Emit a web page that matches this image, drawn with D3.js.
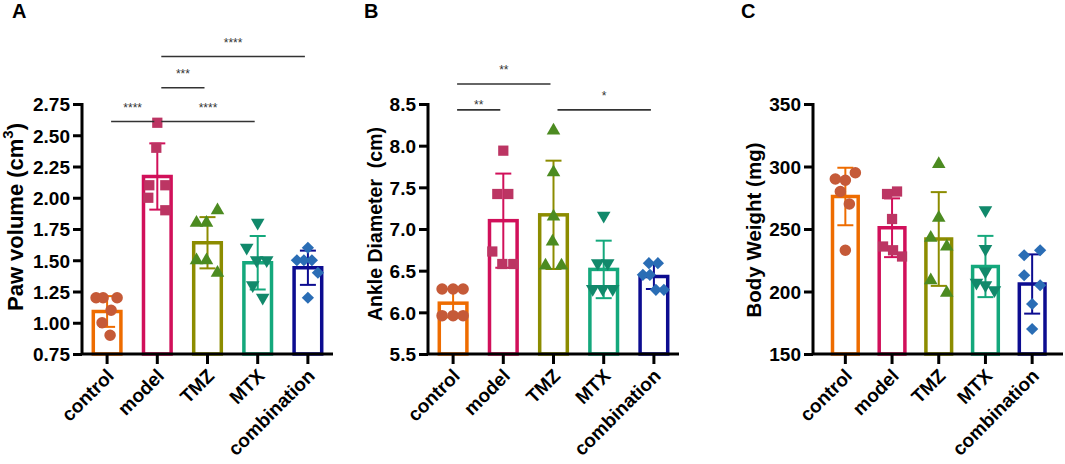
<!DOCTYPE html>
<html>
<head>
<meta charset="utf-8">
<script src="https://cdn.jsdelivr.net/npm/d3@7"></script>
<style>
  body { margin: 0; background: #fff; }
  svg { display: block; font-family: "Liberation Sans", Arial, sans-serif; }
</style>
</head>
<body>
<svg id="app" width="1065" height="464"></svg>
<script>
`use strict`;

// ---- data ----

const groups = [`control`, `model`, `TMZ`, `MTX`, `combination`];

const pawMean = [1.09, 2.17, 1.64, 1.48, 1.44];
const pawSD = [0.123, 0.265, 0.205, 0.214, 0.137];
const pawPoints = [
  [1.2, 1.2, 1.2, 1.1, 1.0, 0.9],
  [2.6, 2.4, 2.1, 2.1, 2.0, 1.9],
  [1.9, 1.8, 1.8, 1.5, 1.5, 1.4],
  [1.8, 1.6, 1.5, 1.5, 1.3, 1.2],
  [1.6, 1.5, 1.5, 1.5, 1.4, 1.2]
];
const pawTicks = [0.75, 1.00, 1.25, 1.50, 1.75, 2.00, 2.25, 2.50, 2.75];
const pawSig = [
  [`control`, `model`, 2.61, `****`],
  [`model`, `MTX`, 2.61, `****`],
  [`model`, `TMZ`, 2.88, `***`],
  [`model`, `combination`, 3.13, `****`]
];

const ankleMean = [6.11, 7.10, 7.17, 6.515, 6.43];
const ankleSD = [0.17, 0.565, 0.65, 0.345, 0.15];
const anklePoints = [
  [6.28, 6.28, 6.28, 5.96, 5.96, 5.96],
  [7.94, 7.42, 7.42, 6.73, 6.58, 6.58],
  [8.18, 7.68, 7.15, 6.85, 6.56, 6.56],
  [7.16, 6.59, 6.59, 6.28, 6.28, 6.28],
  [6.59, 6.59, 6.45, 6.45, 6.27, 6.27]
];
const ankleTicks = [5.5, 6.0, 6.5, 7.0, 7.5, 8.0, 8.5];
const ankleSig = [
  [`control`, `TMZ`, 8.74, `**`],
  [`control`, `model`, 8.43, `**`],
  [`TMZ`, `combination`, 8.43, `*`]
];

const weightMean = [276, 251, 242, 220, 206];
const weightSD = [23, 23.5, 37.5, 24.5, 23.7];
const weightPoints = [
  [295, 290, 289, 280, 270, 233],
  [280, 278, 258, 236, 233, 228],
  [302, 259, 243, 236, 209, 199],
  [265, 234, 216, 207, 205, 201],
  [233, 229, 213, 205, 190, 170]
];
const weightTicks = [150, 200, 250, 300, 350];
const weightSig = [];

// ---- look ----

const barColors = [`#EE6C00`, `#D1105A`, `#8C8C00`, `#14A87C`, `#0C0C90`];
const dotColors = [`#C55A38`, `#BC3563`, `#4C8B21`, `#11896B`, `#2A6DB5`];
const shapes = [
  d3.symbol().type(d3.symbolCircle).size(105),
  d3.symbol().type(d3.symbolSquare).size(105),
  d3.symbol().type(d3.symbolTriangle).size(80),
  d3.symbol().type(d3.symbolTriangle).size(80),
  d3.symbol().type(d3.symbolSquare).size(75)
];
const shapeTurn = [0, 0, 0, 180, 45];

// horizontal scatter of the dots, px from the bar centre
const pawJitter = [[-11, -4, 10, 4, -5, 3], [0, -1, -8, 8, -9, 8], [10, -11, -1, -11, -1, 10], [0, -11, -1, 9, -5, 5], [0, -11, -4, 4, 10, 0]];
const ankleJitter = [[-11, 0, 10, -11, 0, 10], [0, -6, 5, -11, -1, 10], [0, 0, 0, -1, -8, 8], [0, -6, 4, -11, -1, 9], [-5, 4, -11, -4, 2, 10]];
const weightJitter = [[10, -10, 0, -5, 4, 0], [5, -5, 0, -9, 1, 10], [0, 0, -8, 8, -8, 8], [0, 0, 0, -9, 0, 9], [8, -8, -8, 8, 0, 0]];

const Y0 = 354, Y1 = 104;
const svg = d3.select(`#app`);

function panel (Arg) {

  const y = d3.scaleLinear().domain([Arg.ticks[0], Arg.ticks[Arg.ticks.length - 1]]).range([Y0, Y1]);
  const x = d3.scaleBand().domain(groups).range(Arg.band);
  const cx = d => x(d) + x.bandwidth() / 2;
  const bw = x.bandwidth() * 0.55;

  const g = svg.append(`g`);

  // bars
  g.selectAll(`rect`).data(groups).enter().append(`rect`)
    .attr(`x`, d => cx(d) - bw / 2)
    .attr(`y`, (d, i) => y(Arg.mean[i]))
    .attr(`width`, bw)
    .attr(`height`, (d, i) => Y0 - y(Arg.mean[i]))
    .attr(`fill`, `none`)
    .attr(`stroke`, (d, i) => barColors[i])
    .attr(`stroke-width`, 3.5);

  // error bars (mean ± SD)
  const eb = g.selectAll(`g.err`).data(groups).enter().append(`g`).attr(`class`, `err`)
    .attr(`stroke`, (d, i) => barColors[i]).attr(`stroke-width`, 2);

  eb.append(`line`)
    .attr(`x1`, d => cx(d)).attr(`x2`, d => cx(d))
    .attr(`y1`, (d, i) => y(Arg.mean[i] - Arg.sd[i]))
    .attr(`y2`, (d, i) => y(Arg.mean[i] + Arg.sd[i]));

  [1, -1].forEach(s => {
    eb.append(`line`)
      .attr(`x1`, d => cx(d) - 8).attr(`x2`, d => cx(d) + 8)
      .attr(`y1`, (d, i) => y(Arg.mean[i] + s * Arg.sd[i]))
      .attr(`y2`, (d, i) => y(Arg.mean[i] + s * Arg.sd[i]));
  });

  // dots
  groups.forEach((grp, i) => {
    g.selectAll(null).data(Arg.points[i]).enter().append(`path`)
      .attr(`d`, shapes[i])
      .attr(`transform`, (v, k) => `translate(${cx(grp) + Arg.jitter[i][k]},${y(v)}) rotate(${shapeTurn[i]})`)
      .attr(`fill`, dotColors[i]);
  });

  // axes
  const ya = g.append(`g`).attr(`transform`, `translate(${Arg.axisX},0)`)
    .call(d3.axisLeft(y).tickValues(Arg.ticks).tickFormat(d3.format(Arg.fmt)).tickSize(9).tickSizeOuter(0).tickPadding(3));

  const xa = g.append(`g`).attr(`transform`, `translate(0,${Y0})`)
    .call(d3.axisBottom(x).tickSize(10).tickSizeOuter(0));

  xa.select(`.domain`).remove();
  ya.select(`.domain`).remove();

  g.append(`path`)
    .attr(`d`, `M${Arg.axisX},${Y1 - 1}V${Y0}H${Arg.axisEnd}`)
    .attr(`fill`, `none`).attr(`stroke`, `#000`).attr(`stroke-width`, 3);

  [ya, xa].forEach(a => {
    a.selectAll(`.tick line`).attr(`stroke`, `#000`).attr(`stroke-width`, 3);
    a.selectAll(`.tick text`).attr(`fill`, `#000`).style(`font-size`, `19px`).style(`font-weight`, `bold`).style(`font-family`, `"Liberation Sans", Arial, sans-serif`);
  });

  ya.selectAll(`.tick text`).attr(`dy`, `0.36em`);

  xa.selectAll(`.tick text`)
    .attr(`x`, 0).attr(`y`, 0).attr(`dy`, 0)
    .attr(`text-anchor`, `end`)
    .attr(`transform`, `translate(8,23) rotate(-45)`);

  // axis title
  const t = g.append(`text`)
    .attr(`transform`, `translate(${Arg.titleX},${Arg.titleY}) rotate(-90)`)
    .attr(`text-anchor`, `middle`)
    .style(`font-weight`, `bold`)
    .attr(`xml:space`, `preserve`);

  Arg.title.forEach(p => {
    t.append(`tspan`).attr(`dy`, p[1]).style(`font-size`, p[2]).text(p[0]);
  });

  // panel letter
  svg.append(`text`).attr(`x`, Arg.letterX).attr(`y`, 18)
    .style(`font-size`, `20px`).style(`font-weight`, `bold`).text(Arg.letter);

  // significance lines
  Arg.sig.forEach((s, k) => {
    const a = cx(s[0]) + 4, b = cx(s[1]) - 3, ly = y(s[2]);
    g.append(`line`).attr(`x1`, a).attr(`x2`, b).attr(`y1`, ly).attr(`y2`, ly)
      .attr(`stroke`, `#333`).attr(`stroke-width`, 1.6);
    g.append(`text`).attr(`x`, (a + b) / 2).attr(`y`, ly - Arg.starGap[k])
      .attr(`text-anchor`, `middle`).attr(`fill`, `#333`)
      .style(`font-size`, `12px`).text(s[3]);
  });
}

panel({
  mean: pawMean, sd: pawSD, points: pawPoints, jitter: pawJitter, ticks: pawTicks, fmt: `.2f`, sig: pawSig,
  starGap: [10, 10, 10, 10],
  band: [82, 333], axisX: 82, axisEnd: 333,
  title: [[`Paw volume (cm`, 0, `22px`], [`3`, -10, `15px`], [`)`, 10, `22px`]], titleX: 23, titleY: 217,
  letter: `A`, letterX: 12
});

panel({
  mean: ankleMean, sd: ankleSD, points: anklePoints, jitter: ankleJitter, ticks: ankleTicks, fmt: `.1f`, sig: ankleSig,
  starGap: [10, 1, 10],
  band: [428, 679], axisX: 428, axisEnd: 679,
  title: [[`Ankle Diameter  (cm)`, 0, `19.5px`]], titleX: 382, titleY: 224,
  letter: `B`, letterX: 364
});

panel({
  mean: weightMean, sd: weightSD, points: weightPoints, jitter: weightJitter, ticks: weightTicks, fmt: `d`, sig: weightSig,
  starGap: [],
  band: [822, 1055.5], axisX: 813, axisEnd: 1063,
  title: [[`Body Weight (mg)`, 0, `20.5px`]], titleX: 761, titleY: 230,
  letter: `C`, letterX: 741
});
</script>
</body>
</html>
